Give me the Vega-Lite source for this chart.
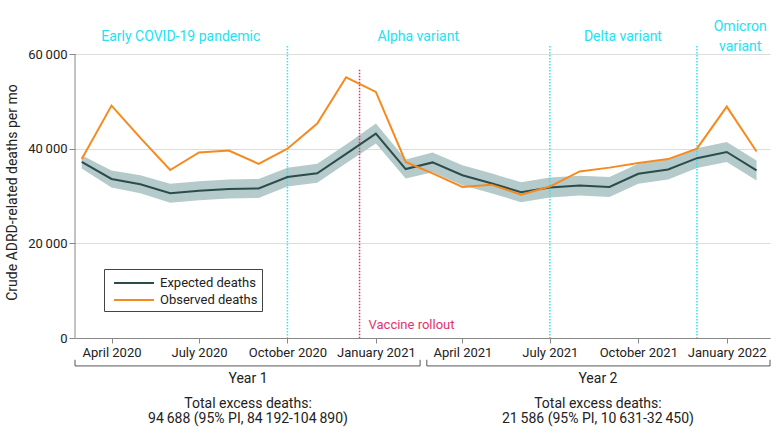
{
  "$schema": "https://vega.github.io/schema/vega-lite/v6.json",
  "width": 695,
  "height": 292,
  "autosize": {"type": "none"},
  "padding": {"left": 75, "top": 46, "right": 10, "bottom": 100},
  "background": "white",
  "config": {
    "font": "Roboto",
    "view": {"stroke": null},
    "axis": {"labelFont": "Roboto", "titleFont": "Roboto"},
    "legend": {"labelFont": "Roboto"}
  },
  "datasets": {
    "lines": [
      {"date": "2020-03-01", "series": "Expected deaths", "deaths": 37200},
      {"date": "2020-04-01", "series": "Expected deaths", "deaths": 33600},
      {"date": "2020-05-01", "series": "Expected deaths", "deaths": 32500},
      {"date": "2020-06-01", "series": "Expected deaths", "deaths": 30600},
      {"date": "2020-07-01", "series": "Expected deaths", "deaths": 31100},
      {"date": "2020-08-01", "series": "Expected deaths", "deaths": 31500},
      {"date": "2020-09-01", "series": "Expected deaths", "deaths": 31600},
      {"date": "2020-10-01", "series": "Expected deaths", "deaths": 34000},
      {"date": "2020-11-01", "series": "Expected deaths", "deaths": 34800},
      {"date": "2020-12-01", "series": "Expected deaths", "deaths": 38900},
      {"date": "2021-01-01", "series": "Expected deaths", "deaths": 43200},
      {"date": "2021-02-01", "series": "Expected deaths", "deaths": 35700},
      {"date": "2021-03-01", "series": "Expected deaths", "deaths": 37100},
      {"date": "2021-04-01", "series": "Expected deaths", "deaths": 34400},
      {"date": "2021-05-01", "series": "Expected deaths", "deaths": 32700},
      {"date": "2021-06-01", "series": "Expected deaths", "deaths": 30800},
      {"date": "2021-07-01", "series": "Expected deaths", "deaths": 31800},
      {"date": "2021-08-01", "series": "Expected deaths", "deaths": 32200},
      {"date": "2021-09-01", "series": "Expected deaths", "deaths": 31900},
      {"date": "2021-10-01", "series": "Expected deaths", "deaths": 34700},
      {"date": "2021-11-01", "series": "Expected deaths", "deaths": 35600},
      {"date": "2021-12-01", "series": "Expected deaths", "deaths": 38000},
      {"date": "2022-01-01", "series": "Expected deaths", "deaths": 39300},
      {"date": "2022-02-01", "series": "Expected deaths", "deaths": 35400},
      {"date": "2020-03-01", "series": "Observed deaths", "deaths": 37800},
      {"date": "2020-04-01", "series": "Observed deaths", "deaths": 49100},
      {"date": "2020-05-01", "series": "Observed deaths", "deaths": 42300},
      {"date": "2020-06-01", "series": "Observed deaths", "deaths": 35500},
      {"date": "2020-07-01", "series": "Observed deaths", "deaths": 39200},
      {"date": "2020-08-01", "series": "Observed deaths", "deaths": 39600},
      {"date": "2020-09-01", "series": "Observed deaths", "deaths": 36800},
      {"date": "2020-10-01", "series": "Observed deaths", "deaths": 40000},
      {"date": "2020-11-01", "series": "Observed deaths", "deaths": 45300},
      {"date": "2020-12-01", "series": "Observed deaths", "deaths": 55100},
      {"date": "2021-01-01", "series": "Observed deaths", "deaths": 52000},
      {"date": "2021-02-01", "series": "Observed deaths", "deaths": 37200},
      {"date": "2021-03-01", "series": "Observed deaths", "deaths": 34800},
      {"date": "2021-04-01", "series": "Observed deaths", "deaths": 31900},
      {"date": "2021-05-01", "series": "Observed deaths", "deaths": 32400},
      {"date": "2021-06-01", "series": "Observed deaths", "deaths": 30300},
      {"date": "2021-07-01", "series": "Observed deaths", "deaths": 32000},
      {"date": "2021-08-01", "series": "Observed deaths", "deaths": 35200},
      {"date": "2021-09-01", "series": "Observed deaths", "deaths": 36000},
      {"date": "2021-10-01", "series": "Observed deaths", "deaths": 37000},
      {"date": "2021-11-01", "series": "Observed deaths", "deaths": 37800},
      {"date": "2021-12-01", "series": "Observed deaths", "deaths": 40000},
      {"date": "2022-01-01", "series": "Observed deaths", "deaths": 48900},
      {"date": "2022-02-01", "series": "Observed deaths", "deaths": 39400}
    ],
    "band": [
      {"date": "2020-03-01", "lower": 35800, "upper": 38600},
      {"date": "2020-04-01", "lower": 31800, "upper": 35400},
      {"date": "2020-05-01", "lower": 30600, "upper": 34400},
      {"date": "2020-06-01", "lower": 28600, "upper": 32600},
      {"date": "2020-07-01", "lower": 29100, "upper": 33100},
      {"date": "2020-08-01", "lower": 29500, "upper": 33500},
      {"date": "2020-09-01", "lower": 29600, "upper": 33600},
      {"date": "2020-10-01", "lower": 32000, "upper": 36000},
      {"date": "2020-11-01", "lower": 32800, "upper": 36800},
      {"date": "2020-12-01", "lower": 36900, "upper": 40900},
      {"date": "2021-01-01", "lower": 41100, "upper": 45300},
      {"date": "2021-02-01", "lower": 33700, "upper": 37700},
      {"date": "2021-03-01", "lower": 35000, "upper": 39200},
      {"date": "2021-04-01", "lower": 32300, "upper": 36500},
      {"date": "2021-05-01", "lower": 30600, "upper": 34800},
      {"date": "2021-06-01", "lower": 28700, "upper": 32900},
      {"date": "2021-07-01", "lower": 29700, "upper": 33900},
      {"date": "2021-08-01", "lower": 30100, "upper": 34300},
      {"date": "2021-09-01", "lower": 29800, "upper": 34000},
      {"date": "2021-10-01", "lower": 32600, "upper": 36800},
      {"date": "2021-11-01", "lower": 33500, "upper": 37700},
      {"date": "2021-12-01", "lower": 35900, "upper": 40100},
      {"date": "2022-01-01", "lower": 37200, "upper": 41400},
      {"date": "2022-02-01", "lower": 33300, "upper": 37500}
    ],
    "periods": [
      {"date": "2020-10-01", "event": "Alpha variant start"},
      {"date": "2021-07-01", "event": "Delta variant start"},
      {"date": "2021-12-01", "event": "Omicron variant start"}
    ],
    "vaccine": [
      {"date": "2020-12-15", "label": "Vaccine rollout"}
    ],
    "headers": [
      {"date": "2020-06-12", "label": "Early COVID-19 pandemic"},
      {"date": "2021-02-14", "label": "Alpha variant"},
      {"date": "2021-09-15", "label": "Delta variant"}
    ],
    "omicron": [
      {"date": "2022-01-15", "label": "Omicron\nvariant"}
    ],
    "years": [
      {"start": "2020-02-23", "end": "2021-02-16", "mid": "2020-08-21", "year": "Year 1", "excess": "Total excess deaths:\n94\u2009688 (95% PI, 84\u2009192-104\u2009890)"},
      {"start": "2021-02-23", "end": "2022-02-15", "mid": "2021-08-20", "year": "Year 2", "excess": "Total excess deaths:\n21\u2009586 (95% PI, 10\u2009631-32\u2009450)"}
    ]
  },
  "encoding": {
    "x": {
      "type": "temporal",
      "scale": {
        "type": "utc",
        "domain": [
          {"year": 2020, "month": 2, "date": 23, "utc": true},
          {"year": 2022, "month": 2, "date": 15, "utc": true}
        ],
        "nice": false
      }
    }
  },
  "layer": [
    {
      "data": {"name": "band"},
      "mark": {"type": "area", "color": "#b5caca", "opacity": 1},
      "encoding": {
        "x": {"field": "date", "type": "temporal",
          "axis": {
            "title": null,
            "values": [
              {"year": 2020, "month": 4, "date": 1, "utc": true},
              {"year": 2020, "month": 7, "date": 1, "utc": true},
              {"year": 2020, "month": 10, "date": 1, "utc": true},
              {"year": 2021, "month": 1, "date": 1, "utc": true},
              {"year": 2021, "month": 4, "date": 1, "utc": true},
              {"year": 2021, "month": 7, "date": 1, "utc": true},
              {"year": 2021, "month": 10, "date": 1, "utc": true},
              {"year": 2022, "month": 1, "date": 1, "utc": true}
            ],
            "labelExpr": "utcFormat(datum.value, '%B %Y')",
            "labelFontSize": 13,
            "labelColor": "#222",
            "labelPadding": 3,
            "tickSize": 5,
            "tickColor": "#888",
            "domainColor": "#888",
            "grid": false,
            "labelFlush": false,
            "labelOverlap": false
          }
        },
        "y": {"field": "lower", "type": "quantitative",
          "scale": {"domain": [0, 61700], "nice": false},
          "axis": {
            "title": "Crude ADRD-related deaths per mo",
            "titleFontSize": 14,
            "titleFontWeight": "normal",
            "titleColor": "#222",
            "titlePadding": 8,
            "values": [0, 20000, 40000, 60000],
            "labelExpr": "replace(format(datum.value, ','), ',', '\u2009')",
            "labelFontSize": 13,
            "labelColor": "#222",
            "labelPadding": 2,
            "tickSize": 6,
            "tickColor": "#888",
            "domain": false,
            "grid": true,
            "gridColor": "#dddddd"
          }
        },
        "y2": {"field": "upper"}
      }
    },
    {
      "data": {"values": [{"axis": "y"}]},
      "mark": {"type": "rule", "color": "#888", "strokeWidth": 1},
      "encoding": {
        "x": {"datum": {"year": 2020, "month": 2, "date": 23, "utc": true}, "type": "temporal"},
        "y": {"datum": 0, "type": "quantitative"},
        "y2": {"datum": 60000}
      }
    },
    {
      "data": {"name": "periods"},
      "mark": {"type": "rule", "color": "#2ee3f2", "strokeWidth": 1.5, "strokeDash": [1.5, 1.5]},
      "encoding": {
        "x": {"field": "date", "type": "temporal"}
      }
    },
    {
      "data": {"name": "vaccine"},
      "mark": {"type": "rule", "color": "#e2336e", "strokeWidth": 1.5, "strokeDash": [1.5, 1.5]},
      "encoding": {
        "x": {"field": "date", "type": "temporal"},
        "y": {"datum": 56700, "type": "quantitative"},
        "y2": {"datum": 0}
      }
    },
    {
      "data": {"name": "vaccine"},
      "mark": {"type": "text", "color": "#e2336e", "align": "left", "baseline": "middle", "dx": 9, "fontSize": 13},
      "encoding": {
        "x": {"field": "date", "type": "temporal"},
        "y": {"datum": 2800, "type": "quantitative"},
        "text": {"field": "label"}
      }
    },
    {
      "data": {"name": "lines"},
      "mark": {"type": "line", "strokeWidth": 2},
      "encoding": {
        "x": {"field": "date", "type": "temporal"},
        "y": {"field": "deaths", "type": "quantitative"},
        "color": {
          "field": "series",
          "type": "nominal",
          "scale": {"domain": ["Expected deaths", "Observed deaths"], "range": ["#2c4c4c", "#f58a1f"]},
          "legend": {
            "title": null,
            "orient": "none",
            "legendX": 29,
            "legendY": 223,
            "strokeColor": "#444",
            "fillColor": "white",
            "padding": 4,
            "symbolType": "M-0.444,0H4",
            "symbolSize": 324,
            "symbolStrokeWidth": 2,
            "labelFontSize": 13,
            "labelColor": "#222",
            "labelOffset": 32,
            "rowPadding": 0
          }
        }
      }
    },
    {
      "data": {"name": "headers"},
      "mark": {"type": "text", "color": "#22e2f2", "align": "center", "baseline": "middle", "fontSize": 14},
      "encoding": {
        "x": {"field": "date", "type": "temporal"},
        "y": {"datum": 63600, "type": "quantitative"},
        "text": {"field": "label"}
      }
    },
    {
      "data": {"name": "omicron"},
      "mark": {"type": "text", "color": "#22e2f2", "align": "center", "baseline": "middle", "fontSize": 14, "lineBreak": "\n", "lineHeight": 20},
      "encoding": {
        "x": {"field": "date", "type": "temporal"},
        "y": {"datum": 65800, "type": "quantitative"},
        "text": {"field": "label"}
      }
    },
    {
      "data": {"name": "years"},
      "mark": {"type": "rule", "color": "#555", "strokeWidth": 1},
      "encoding": {
        "x": {"field": "start", "type": "temporal"},
        "x2": {"field": "end"},
        "y": {"datum": -5900, "type": "quantitative"}
      }
    },
    {
      "data": {"name": "years"},
      "mark": {"type": "rule", "color": "#555", "strokeWidth": 1},
      "encoding": {
        "x": {"field": "start", "type": "temporal"},
        "y": {"datum": -4600, "type": "quantitative"},
        "y2": {"datum": -5900}
      }
    },
    {
      "data": {"name": "years"},
      "mark": {"type": "rule", "color": "#555", "strokeWidth": 1},
      "encoding": {
        "x": {"field": "end", "type": "temporal"},
        "y": {"datum": -4600, "type": "quantitative"},
        "y2": {"datum": -5900}
      }
    },
    {
      "data": {"name": "years"},
      "mark": {"type": "text", "color": "#222", "align": "center", "baseline": "middle", "fontSize": 14},
      "encoding": {
        "x": {"field": "mid", "type": "temporal"},
        "y": {"datum": -8600, "type": "quantitative"},
        "text": {"field": "year"}
      }
    },
    {
      "data": {"name": "years"},
      "mark": {"type": "text", "color": "#222", "align": "center", "baseline": "middle", "fontSize": 14, "lineBreak": "\n", "lineHeight": 15},
      "encoding": {
        "x": {"field": "mid", "type": "temporal"},
        "y": {"datum": -14000, "type": "quantitative"},
        "text": {"field": "excess"}
      }
    }
  ]
}
